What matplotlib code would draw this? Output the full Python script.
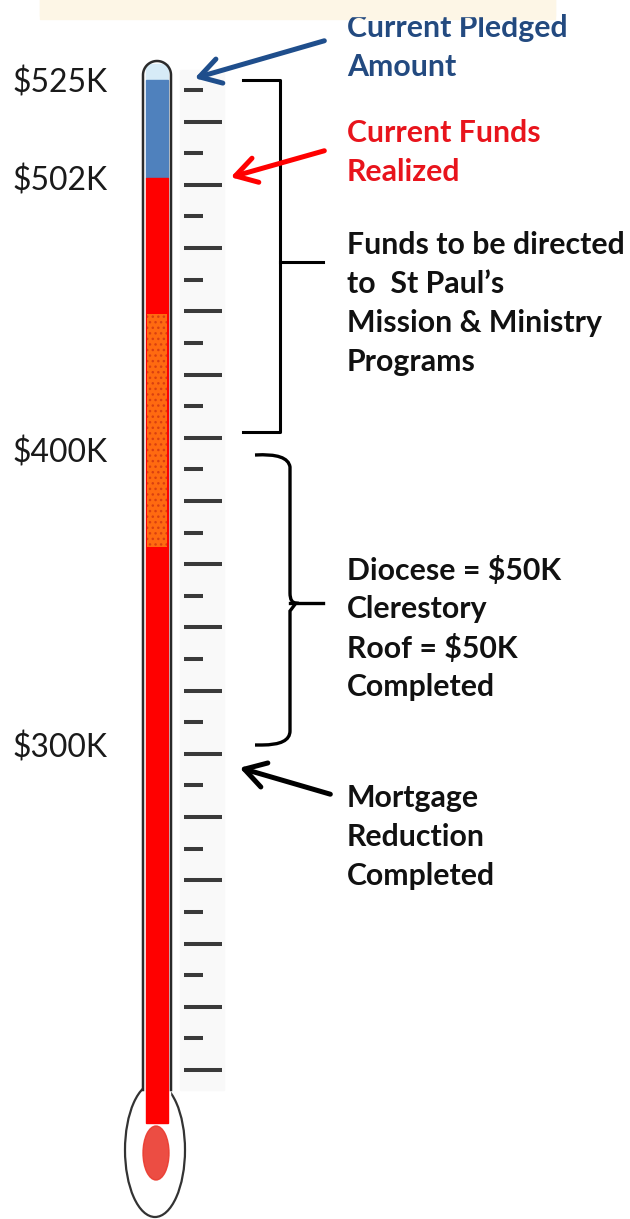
import numpy as np
import matplotlib.pyplot as plt
from matplotlib.patches import Rectangle, Ellipse, FancyArrowPatch, PathPatch
from matplotlib.path import Path

# amounts in $K
pledged = 525
realized = 502
mark_vals = [525, 502, 400, 300]
mark_text = ["$525K", "$502K", "$400K", "$300K"]
band = [367, 451]          # dotted orange part of the column
n_ticks = 32

# the picture's own (uneven) scale: $K -> pixel row
scale_k = [0, 300, 400, 502, 525]
scale_px = [1123, 745, 450, 178, 80]

def yk(v):
    return float(np.interp(v, scale_k, scale_px))

pledged_lines = ["Current Pledged", "Amount"]
realized_lines = ["Current Funds", "Realized"]
mission_lines = ["Funds to be directed", "to  St Paul\u2019s", "Mission & Ministry", "Programs"]
diocese_lines = ["Diocese = $50K", "Clerestory", "Roof = $50K", "Completed"]
mortgage_lines = ["Mortgage", "Reduction", "Completed"]

BLUE_TXT = "#234a80"
RED_TXT = "#e8141c"
FONT = "Lato"

fig = plt.figure(figsize=(6.3, 12.19), dpi=100)
ax = fig.add_axes([0, 0, 1, 1])
ax.set_xlim(0, 630)
ax.set_ylim(1219, 0)
ax.axis("off")
rend = fig.canvas.get_renderer()

def fit_size(s, width, **kw):
    # font size that makes string s about `width` pixels wide
    t = ax.text(0, 0, s, fontsize=20, **kw)
    w = t.get_window_extent(rend).width
    t.remove()
    return 20 * width / w

lab_size = fit_size("$525K", 95, family=FONT)
note_size = fit_size("Funds to be directed", 278, family=FONT, weight="bold")

# pale band at the very top
ax.add_patch(Rectangle((40, -5), 515, 24, color="#fdf6e6", zorder=0))
# faint backing behind the scale
ax.add_patch(Rectangle((180, 70), 44, 1020, color="#f9f9f9", zorder=0))

# bulb
ax.add_patch(Ellipse((155, 1150), 60, 134, fc="white", ec="#333333", lw=1.6, zorder=1))
ax.add_patch(Rectangle((144, 1075), 26, 25, color="white", zorder=1.5))
ax.add_patch(Ellipse((156, 1153), 26, 54, color="#ea3a2e", alpha=0.9, zorder=5))

# tube outline
xl, xr, top = 143, 171, 61
r = (xr - xl) / 2
theta = np.linspace(np.pi, 0, 40)
tx = np.concatenate([[xl], xl + r + r * np.cos(theta), [xr]])
ty = np.concatenate([[1090], top + r - r * np.sin(theta), [1090]])
ax.plot(tx, ty, color="#2b2b2b", lw=1.8, zorder=4)

# column fills
fx, fw = 146, 22
ax.add_patch(Rectangle((fx, top + 3), fw, yk(pledged) - top - 3, color="#d6ebf7", zorder=2))
ax.add_patch(Rectangle((fx, yk(pledged)), fw, yk(realized) - yk(pledged), color="#4f81bd", zorder=2))
ax.add_patch(Rectangle((fx, yk(realized)), fw, yk(0) - yk(realized), color="#ff0000", zorder=2))
ax.add_patch(Rectangle((fx + 1, yk(band[1])), fw - 2, yk(band[0]) - yk(band[1]),
                       fc="#ff6a10", ec="#d94010", hatch="...", lw=0, zorder=2.5))

# scale ticks
for i, y in enumerate(np.linspace(90, 1070, n_ticks)):
    x2 = 203 if i % 2 == 0 else 222
    ax.plot([184, x2], [y, y], color="#3a3a3a", lw=2.9, solid_capstyle="butt", zorder=3)

# dollar labels
for v, t in zip(mark_vals, mark_text):
    ax.text(12, yk(v) + 3, t, fontsize=lab_size, family=FONT, color="#1a1a1a",
            va="center", ha="left")

# top bracket
yb = yk(400) - 18
ax.plot([243, 280, 280, 243], [80, 80, yb, yb], color="black", lw=2.2, zorder=3)
ax.plot([280, 323], [262, 262], color="black", lw=2.2, zorder=3)

# lower curly bracket
yt, ybot, ym = yk(400) + 5, yk(300), 603
verts = [(255, yt), (288, yt - 2), (290, yt + 12), (290, ym - 10),
         (290, ym), (296, ym), (290, ym + 8), (290, ybot - 14),
         (290, ybot), (262, ybot), (255, ybot)]
codes = [Path.MOVETO, Path.CURVE3, Path.CURVE3, Path.LINETO,
         Path.CURVE3, Path.CURVE3, Path.LINETO, Path.LINETO,
         Path.CURVE3, Path.CURVE3, Path.LINETO]
ax.add_patch(PathPatch(Path(verts, codes), fc="none", ec="black", lw=2.4, zorder=3))
ax.plot([290, 323], [ym, ym], color="black", lw=2.4, zorder=3)

# arrows
def arrow(p0, p1, c):
    ax.add_patch(FancyArrowPatch(p0, p1, arrowstyle="->,head_length=15,head_width=9",
                                 mutation_scale=1, color=c, lw=3.6, zorder=6))

arrow((327, 40), (192, 79), "#1f4e8c")
arrow((327, 150), (228, 178), "#ff0000")
arrow((333, 795), (237, 767), "black")

# notes
def note(lines, y0, color):
    for k, s in enumerate(lines):
        ax.text(347, y0 + 39 * k, s, fontsize=note_size, family=FONT, weight="bold",
                color=color, va="center", ha="left", zorder=1)

note(pledged_lines, 28, BLUE_TXT)
note(realized_lines, 133, RED_TXT)
note(mission_lines, 245, "#111111")
note(diocese_lines, 570, "#111111")
note(mortgage_lines, 798, "#111111")

# band overlaps top of first note line
ax.add_patch(Rectangle((40, -5), 515, 21, color="#fdf6e6", zorder=2))

fig.savefig("out.png", dpi=100)
